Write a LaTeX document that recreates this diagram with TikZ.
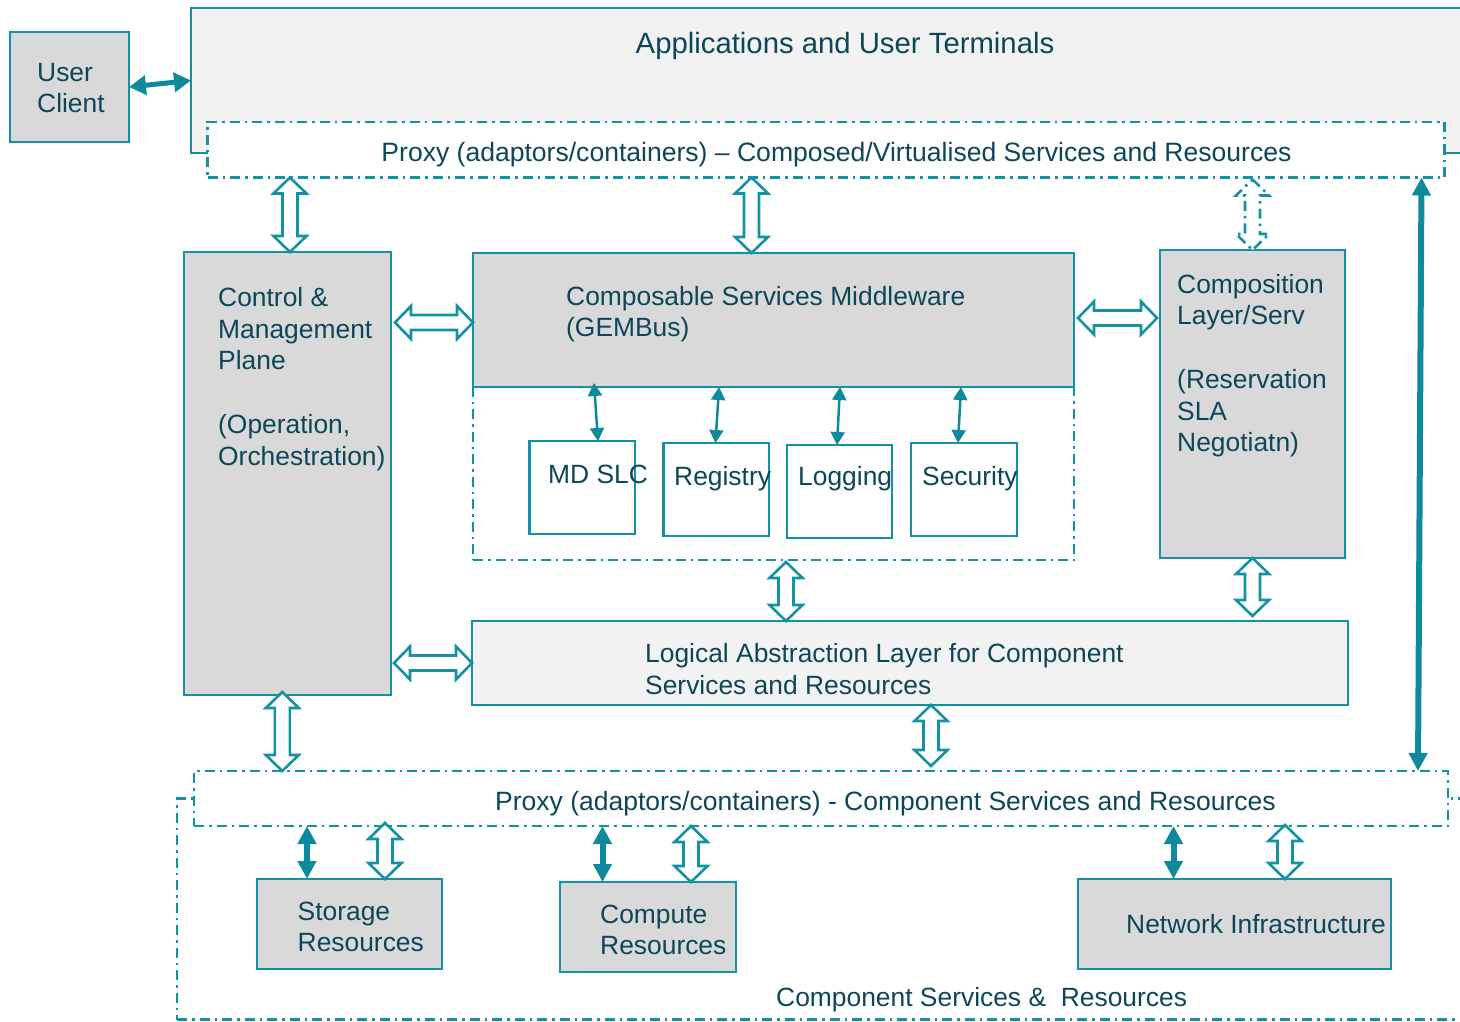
\documentclass[tikz,border=0pt]{standalone}
\usepackage{fontspec}
\setmainfont{Liberation Sans}
\usetikzlibrary{calc,arrows.meta}
\definecolor{tl}{RGB}{20,146,163}
\definecolor{tldark}{RGB}{14,138,156}
\definecolor{txtc}{RGB}{12,70,90}
\definecolor{gfill}{RGB}{217,217,217}
\definecolor{lfill}{RGB}{242,242,242}
% hollow double block arrow between two named coordinates
\newcommand\hollowarrow[3][]{%
 \draw[hollow,#1] (#2)
 -- ($(#2)!16pt!(#3)!16.5pt!90:(#3)$)
 -- ($(#2)!16pt!(#3)!7.5pt!90:(#3)$)
 -- ($(#3)!16pt!(#2)!7.5pt!-90:(#2)$)
 -- ($(#3)!16pt!(#2)!16.5pt!-90:(#2)$)
 -- (#3)
 -- ($(#3)!16pt!(#2)!16.5pt!90:(#2)$)
 -- ($(#3)!16pt!(#2)!7.5pt!90:(#2)$)
 -- ($(#2)!16pt!(#3)!7.5pt!-90:(#3)$)
 -- ($(#2)!16pt!(#3)!16.5pt!-90:(#3)$)
 -- cycle;}
\begin{document}
\begin{tikzpicture}[x=1pt,y=-1pt,
 box/.style={draw=tl, line width=2.6pt, anchor=north west, inner sep=0pt, outer sep=0pt},
 dashdot/.style={dash pattern=on 10pt off 5pt on 2.5pt off 5pt},
 hollow/.style={draw=tl, fill=white, line width=2.6pt, line join=miter},
 fat/.style={draw=tldark, line width=6pt, {Triangle[length=18pt,width=18pt]}-{Triangle[length=18pt,width=18pt]}},
 thin/.style={draw=tldark, line width=2.5pt, {Triangle[length=13pt,width=14pt]}-{Triangle[length=13pt,width=14pt]}},
 txt/.style={text=txtc, inner sep=0pt, align=left, anchor=base west, font=\fontsize{26.4}{31.7}\selectfont}]
\useasboundingbox (0,0) rectangle (1460,1022);
\clip (0,0) rectangle (1460,1022);

% boxes
\node[box, fill=lfill, minimum width=1300pt, minimum height=145pt] (app) at (191,8) {};
\node[box, fill=white, dashdot, minimum width=1237pt, minimum height=55.5pt] (proxyT) at (207.5,122) {};
\node[box, fill=gfill, minimum width=119pt, minimum height=110pt] (user) at (10,32) {};
\node[box, fill=gfill, minimum width=207pt, minimum height=443pt] (ctrl) at (184,252) {};
\node[box, dashdot, minimum width=601pt, minimum height=307pt] (gemc) at (473,253) {};
\node[box, fill=gfill, minimum width=601pt, minimum height=134pt] (gem) at (473,253) {};
\node[box, fill=white, minimum width=105.5pt, minimum height=93pt] (md) at (529.5,441) {};
\node[box, fill=white, minimum width=105.5pt, minimum height=93pt] (reg) at (663.5,443) {};
\node[box, fill=white, minimum width=105pt, minimum height=93pt] (logg) at (787,445) {};
\node[box, fill=white, minimum width=106pt, minimum height=93pt] (sec) at (911,443) {};
\node[box, fill=gfill, minimum width=185pt, minimum height=308pt] (comp) at (1160,250) {};
\node[box, fill=lfill, minimum width=876pt, minimum height=84pt] (logic) at (472,621) {};
\node[box, dashdot, minimum width=1300pt, minimum height=221pt] (outer) at (177,798.5) {};
\node[box, fill=white, dashdot, minimum width=1254pt, minimum height=55pt] (proxyB) at (194,771) {};
\node[box, fill=gfill, minimum width=185pt, minimum height=90pt] (stor) at (257,879) {};
\node[box, fill=gfill, minimum width=176pt, minimum height=90pt] (compu) at (560,882) {};
\node[box, fill=gfill, minimum width=313pt, minimum height=90pt] (net) at (1078,879) {};

% connector end points
\coordinate (a1) at ($(proxyT.south west)+(82.5,0)$);
\coordinate (a2) at (a1 |- ctrl.north);
\coordinate (b1) at ($(proxyT.south west)+(544,0)$);
\coordinate (b2) at (b1 |- gem.north);
\coordinate (c1) at (comp.north);
\coordinate (c2) at ($(comp.north |- proxyT.south)+(0,2)$);
\coordinate (d1) at ($(ctrl.north east)+(4,70.5)$);
\coordinate (d2) at (d1 -| gem.west);
\coordinate (e1) at ($(gem.north east)+(4,65)$);
\coordinate (e2) at ($(e1 -| comp.west)+(-3,0)$);
\coordinate (f1) at ($(ctrl.east |- logic.west)+(3,0)$);
\coordinate (f2) at (logic.west);
\coordinate (g1) at ($(gemc.south west)+(313,2)$);
\coordinate (g2) at (g1 |- logic.north);
\coordinate (h1) at (comp.south);
\coordinate (h2) at ($(h1 |- logic.north)+(0,-5)$);
\coordinate (i1) at ($(logic.south west)+(459,0)$);
\coordinate (i2) at ($(i1 |- proxyB.north)+(0,-5)$);
\coordinate (j1) at ($(ctrl.south west)+(98.3,-3)$);
\coordinate (j2) at (j1 |- proxyB.north);
\coordinate (k1) at ($(stor.north west)+(128,0)$);
\coordinate (k2) at ($(k1 |- proxyB.south)+(0,-3)$);
\coordinate (l1) at ($(compu.north west)+(131,0)$);
\coordinate (l2) at (l1 |- proxyB.south);
\coordinate (m1) at ($(net.north west)+(207,0)$);
\coordinate (m2) at ($(m1 |- proxyB.south)+(0,-1)$);
\coordinate (n1) at ($(proxyT.south east)+(-23,0)$);
\coordinate (n2) at ($(proxyB.north east)+(-30,0)$);
\coordinate (o1) at ($(stor.north west)+(50,0)$);
\coordinate (o2) at (o1 |- proxyB.south);
\coordinate (p1) at ($(compu.north west)+(42.5,0)$);
\coordinate (p2) at (p1 |- proxyB.south);
\coordinate (q1) at ($(net.north west)+(95.5,0)$);
\coordinate (q2) at (q1 |- proxyB.south);
\coordinate (r1) at ($(gem.south west)+(121,-4)$);
\coordinate (r2) at ($(md.north west)+(68.5,0)$);
\coordinate (s1) at ($(gem.south west)+(246,0)$);
\coordinate (s2) at ($(reg.north west)+(52,0)$);
\coordinate (t1) at ($(gem.south west)+(367,0)$);
\coordinate (t2) at ($(logg.north west)+(50,0)$);
\coordinate (u1) at ($(gem.south west)+(488,0)$);
\coordinate (u2) at ($(sec.north west)+(47,0)$);

% hollow block arrows
\hollowarrow{a1}{a2}
\hollowarrow{b1}{b2}
\hollowarrow[dashdot]{c2}{c1}
\hollowarrow{d1}{d2}
\hollowarrow{e1}{e2}
\hollowarrow{f1}{f2}
\hollowarrow{g1}{g2}
\hollowarrow{h1}{h2}
\hollowarrow{i1}{i2}
\hollowarrow{j1}{j2}
\hollowarrow{k2}{k1}
\hollowarrow{l2}{l1}
\hollowarrow{m2}{m1}

% filled arrows
\draw[fat, line width=5pt, {Triangle[length=17pt,width=19pt]}-{Triangle[length=17pt,width=19pt]}] (user.east) -- (app.west);
\draw[fat] (n1) -- (n2);
\draw[fat] (o2) -- (o1);
\draw[fat] (p2) -- (p1);
\draw[fat] (q2) -- (q1);
\draw[thin] (r1) -- (r2);
\draw[thin] (s1) -- (s2);
\draw[thin] (t1) -- (t2);
\draw[thin] (u1) -- (u2);

% texts (multi-line texts are anchored at the baseline of their last line)
\node[txt] (userT) at (37,113) {User\\Client};
\node[txt, anchor=base, font=\fontsize{29.3}{35}\selectfont] (appT) at (845,54) {Applications and User Terminals};
\node[txt, anchor=base, font=\fontsize{26.55}{32}\selectfont] (proxyTT) at (836.5,162) {Proxy (adaptors/containers) – Composed/Virtualised Services and Resources};
\node[txt] (ctrlT) at (218,465) {Control \&\\Management\\Plane\\[31.7pt](Operation,\\Orchestration)};
\node[txt] (gemT) at (566,336.7) {Composable Services Middleware\\(GEMBus)};
\node[txt] (mdT) at (548,483) {MD SLC};
\node[txt] (regT) at (674,485) {Registry};
\node[txt] (logT) at (798,485) {Logging};
\node[txt] (secT) at (922,485) {Security};
\node[txt] (compT) at (1177,451.7) {Composition\\Layer/Serv\\[31.7pt](Reservation\\SLA\\Negotiatn)};
\node[txt] (logicT) at (645,694) {Logical Abstraction Layer for Component\\Services and Resources};
\node[txt, font=\fontsize{26.5}{32}\selectfont] (proxyBT) at (495,810) {Proxy (adaptors/containers) - Component Services and Resources};
\node[txt] (storT) at (297.5,951.7) {Storage\\Resources};
\node[txt] (compuT) at (600,954.7) {Compute\\Resources};
\node[txt] (netT) at (1126,933) {Network Infrastructure};
\node[txt] (ccT) at (776,1006) {Component Services \&\ \ Resources};
\end{tikzpicture}
\end{document}
